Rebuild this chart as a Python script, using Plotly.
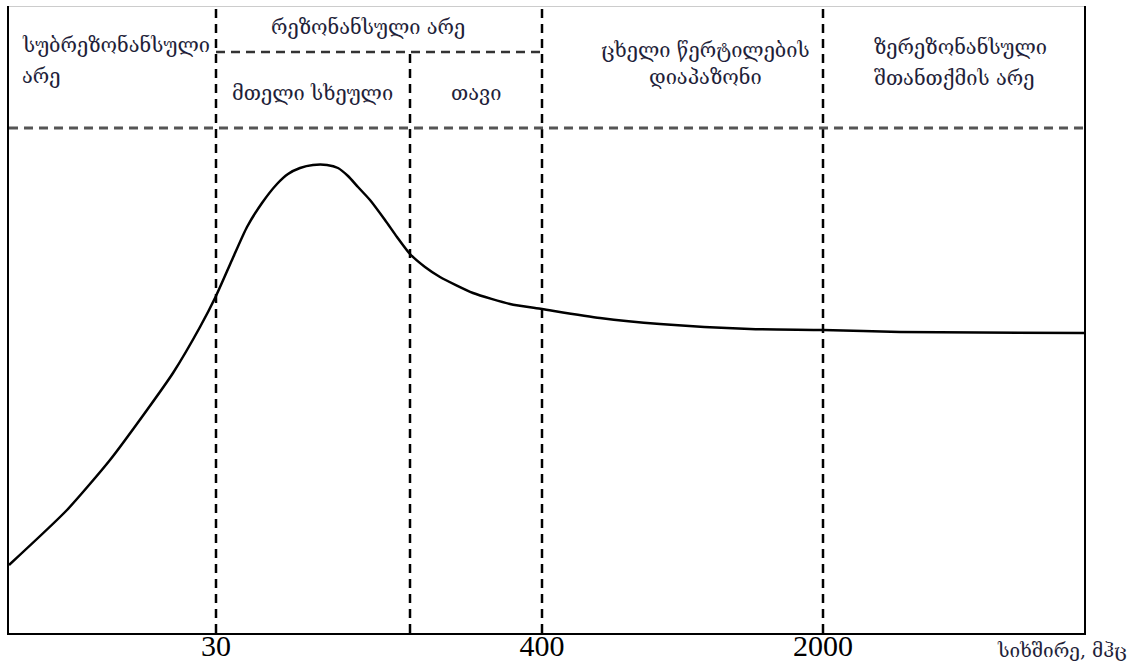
import plotly.graph_objects as go

# Schematic units (arbitrary, horizontal frequency position / vertical absorption level)
curve_x = [0, 58, 101, 138, 164, 191, 207, 223, 238, 253, 268, 279, 291, 304, 318, 329, 339, 349,
           361, 376, 388, 401, 416, 431, 464, 501, 533, 591, 651, 741, 814, 891, 1075]
curve_y = [68, 123, 173, 223, 260, 306, 337, 373, 406, 430, 449, 459, 465, 468, 468, 465, 457, 446,
           433, 413, 396, 379, 366, 356, 340, 329, 324, 315, 309, 304, 303, 301, 300]

tick_positions = [207, 533, 814]
tick_labels = ["30", "400", "2000"]
head_boundary = 401
header_level = 505
sub_header_level = 581

X_MAX = 1075
Y_MAX = 627

fig = go.Figure()
fig.add_trace(go.Scatter(x=curve_x, y=curve_y, mode="lines",
                         line=dict(color="black", width=2.5, shape="spline", smoothing=0.6),
                         hoverinfo="skip", showlegend=False))

dash = "9px,6px"
for xv in tick_positions:
    fig.add_shape(type="line", x0=xv, x1=xv, y0=0, y1=Y_MAX, xref="x", yref="y",
                  line=dict(color="black", width=2.5, dash=dash))
fig.add_shape(type="line", x0=head_boundary, x1=head_boundary, y0=0, y1=sub_header_level,
              xref="x", yref="y", line=dict(color="black", width=2.5, dash=dash))
fig.add_shape(type="line", x0=0, x1=X_MAX, y0=header_level, y1=header_level, xref="x", yref="y",
              line=dict(color="#555555", width=3, dash="9px,6px"))
fig.add_shape(type="line", x0=tick_positions[0], x1=tick_positions[1], y0=sub_header_level,
              y1=sub_header_level, xref="x", yref="y",
              line=dict(color="#333333", width=2.5, dash="9px,6px"))
fig.add_shape(type="line", x0=0, x1=X_MAX, y0=Y_MAX, y1=Y_MAX, xref="x", yref="y",
              line=dict(color="#cccccc", width=2))

tc = "#1f1f3a"
tf = dict(family="DejaVu Serif", size=20, color=tc)
annos = [
    dict(x=11, y=588, text="სუბრეზონანსული", xanchor="left"),
    dict(x=11, y=557, text="არე", xanchor="left"),
    dict(x=359, y=606, text="რეზონანსული არე", xanchor="center"),
    dict(x=303, y=540, text="მთელი სხეული", xanchor="center"),
    dict(x=467, y=540, text="თავი", xanchor="center"),
    dict(x=696, y=583, text="ცხელი წერტილების", xanchor="center"),
    dict(x=696, y=556, text="დიაპაზონი", xanchor="center"),
    dict(x=863, y=586, text="ზერეზონანსული", xanchor="left"),
    dict(x=863, y=555, text="შთანთქმის არე", xanchor="left"),
]
for a in annos:
    fig.add_annotation(x=a["x"], y=a["y"], text=a["text"], xanchor=a["xanchor"], yanchor="middle",
                       showarrow=False, font=tf, xref="x", yref="y")

fig.add_annotation(x=1.0, y=0, xref="paper", yref="paper", xanchor="left", yanchor="top",
                   xshift=-89, yshift=-4, text="სიხშირე, მჰც", showarrow=False,
                   font=dict(family="DejaVu Serif", size=19, color=tc))

fig.update_layout(
    width=1143, height=664,
    margin=dict(l=9, r=59, t=6, b=31, autoexpand=False),
    paper_bgcolor="white", plot_bgcolor="white",
    xaxis=dict(range=[0, X_MAX], tickvals=tick_positions, ticktext=tick_labels,
               showgrid=False, zeroline=False, showline=True, linecolor="black", linewidth=2,
               ticks="", ticklabelstandoff=-15, automargin=False,
               tickfont=dict(family="Liberation Serif", size=30, color="black"),
               fixedrange=True),
    yaxis=dict(range=[0, Y_MAX], showticklabels=False, showgrid=False, zeroline=False,
               showline=True, linecolor="black", linewidth=2, mirror=True, ticks="",
               automargin=False, fixedrange=True),
)

fig.write_html("out.html", post_script="document.body.style.margin='0';",
               config={"displayModeBar": False})
